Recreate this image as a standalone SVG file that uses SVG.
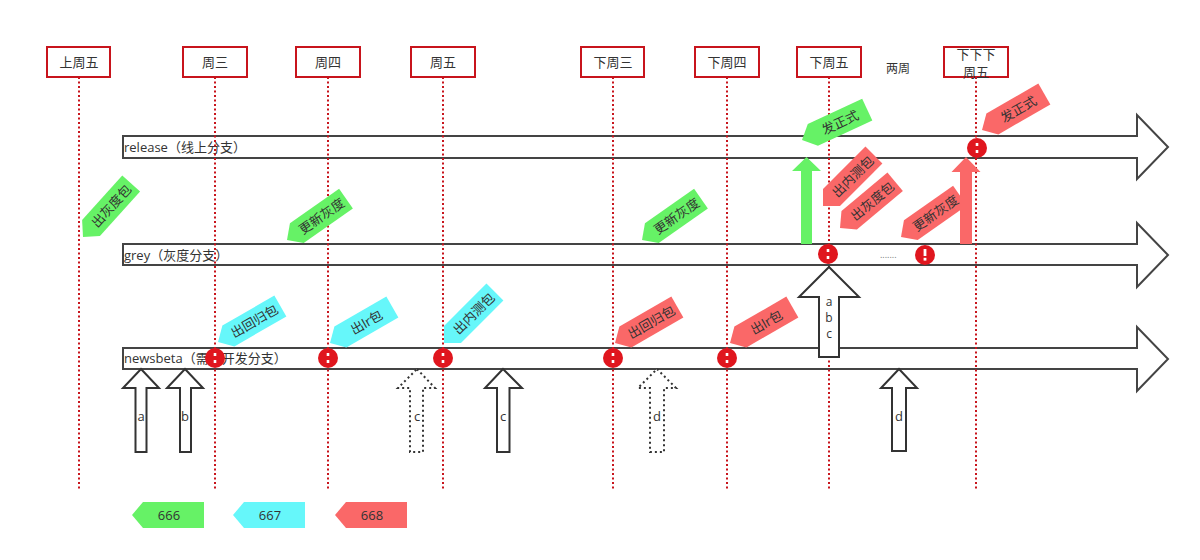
<svg xmlns="http://www.w3.org/2000/svg" xmlns:xlink="http://www.w3.org/1999/xlink" width="1200" height="560" viewBox="0 0 1200 560">
<style>
text{font-family:"Open Sans","Noto Sans CJK SC",sans-serif;fill:#333}
.lbl rect{fill:#fff;stroke:#c8141c;stroke-width:2}
.t{font-size:13px;text-anchor:middle;dominant-baseline:central}
.vl{stroke:#c8141c;stroke-width:2;stroke-dasharray:2 2.5;fill:none}
.br{fill:#fff;stroke:#444;stroke-width:2}
.bt{font-size:13px;dominant-baseline:central}
.ua{fill:#fff;stroke:#333;stroke-width:2}
.dash{stroke-dasharray:2 3}
.ut{font-size:13px;text-anchor:middle;dominant-baseline:central}
.us{font-size:12px;text-anchor:middle;dominant-baseline:central}
.g{fill:#66f266}.c{fill:#66f7fa}.r{fill:#fa6868}
.tg{font-size:13px;text-anchor:middle;dominant-baseline:central}
.lg{font-size:13px;text-anchor:middle;dominant-baseline:central}
.pt{fill:#e0161e}
.pw{fill:#fff}
</style>
<defs>
<path id="tag" d="M0,0 L12,-12 L72,-12 L72,12 L12,12 Z"/>
<path id="ltag" d="M0,0 L11,-13 L72,-13 L72,13 L11,13 Z"/>
<g id="colon"><circle class="pt" r="10"/><rect class="pw" x="-1.3" y="-5" width="2.6" height="3"/><rect class="pw" x="-1.3" y="2" width="2.6" height="3"/></g>
<g id="bang"><circle class="pt" r="10"/><rect class="pw" x="-1.4" y="-6" width="2.8" height="7"/><rect class="pw" x="-1.4" y="2.8" width="2.8" height="2.8"/></g>
</defs>

<g id="branches">
<g id="release"><path class="br" d="M123,136 L1137,136 L1137,115 L1168,147 L1137,179 L1137,158 L123,158 Z"/><text class="bt" x="124" y="147">release（线上分支）</text></g>
<g id="grey"><path class="br" d="M123,244 L1137,244 L1137,223 L1168,255 L1137,287 L1137,265 L123,265 Z"/><text class="bt" x="124" y="255">grey（灰度分支）</text></g>
<g id="newsbeta"><path class="br" d="M123,348 L1137,348 L1137,327 L1168,359 L1137,391 L1137,369 L123,369 Z"/><text class="bt" x="124" y="358">newsbeta（需求开发分支）</text></g>
</g>

<g id="timeline">
<path class="vl" d="M79,77V490 M215,77V490 M328,77V490 M443,77V490 M613,77V490 M727,77V490 M829,77V490 M976,77V490"/>
<g class="lbl" id="d-lastfri"><rect x="47" y="47" width="63" height="30"/><text class="t" x="79" y="62">上周五</text></g>
<g class="lbl" id="d-wed"><rect x="183" y="47" width="64" height="30"/><text class="t" x="215" y="62">周三</text></g>
<g class="lbl" id="d-thu"><rect x="296" y="47" width="64" height="30"/><text class="t" x="328" y="62">周四</text></g>
<g class="lbl" id="d-fri"><rect x="411" y="47" width="64" height="30"/><text class="t" x="443" y="62">周五</text></g>
<g class="lbl" id="d-nwed"><rect x="581" y="47" width="63" height="30"/><text class="t" x="613" y="62">下周三</text></g>
<g class="lbl" id="d-nthu"><rect x="695" y="47" width="64" height="30"/><text class="t" x="727" y="62">下周四</text></g>
<g class="lbl" id="d-nfri"><rect x="797" y="47" width="64" height="30"/><text class="t" x="829" y="62">下周五</text></g>
<g class="lbl" id="d-nnnfri"><rect x="944" y="47" width="64" height="30"/><text class="t" x="976" y="54">下下下</text><text class="t" x="976" y="72">周五</text></g>
<text id="twoweeks" class="t" x="898" y="68" style="font-size:12px">两周</text>
</g>

<g id="connectors">
<path id="arr-a" class="ua" d="M141,369 L159,388 L146.5,388 L146.5,452 L135.5,452 L135.5,388 L123,388 Z"/>
<text class="ut" x="141" y="416">a</text>
<path id="arr-b" class="ua" d="M185,369 L203,388 L191,388 L191,452 L180,452 L180,388 L167,388 Z"/>
<text class="ut" x="185" y="416">b</text>
<path id="arr-c1" class="ua dash" d="M417,369 L435,388 L423,388 L423,452 L410,452 L410,388 L398,388 Z"/>
<text class="ut" x="417" y="416">c</text>
<path id="arr-c2" class="ua" d="M503,369 L522,388 L509.5,388 L509.5,452 L497,452 L497,388 L485,388 Z"/>
<text class="ut" x="503" y="416">c</text>
<path id="arr-d1" class="ua dash" d="M657,369 L676,388 L664,388 L664,452 L650,452 L650,388 L638,388 Z"/>
<text class="ut" x="657" y="416">d</text>
<path id="arr-d2" class="ua" d="M899,369 L917,388 L906,388 L906,451 L892,451 L892,388 L881,388 Z"/>
<text class="ut" x="899" y="416">d</text>
<path id="arr-abc" class="ua" d="M829,267 L859,297 L839,297 L839,357 L819,357 L819,297 L799,297 Z"/>
<text class="us" x="829" y="301">a</text><text class="us" x="829" y="317">b</text><text class="us" x="829" y="333">c</text>
<path id="arr-green" class="g" d="M806.5,157 L821,171 L812,171 L812,244 L801,244 L801,171 L792,171 Z"/>
</g>

<g id="tags">
<g id="t1" transform="translate(83,237) rotate(-48)"><use xlink:href="#tag" href="#tag" class="g"/><text class="tg" x="42" y="0">出灰度包</text></g>
<g id="t2" transform="translate(287,240) rotate(-35)"><use xlink:href="#tag" href="#tag" class="g"/><text class="tg" x="42" y="0">更新灰度</text></g>
<g id="t3" transform="translate(642,240) rotate(-35)"><use xlink:href="#tag" href="#tag" class="g"/><text class="tg" x="42" y="0">更新灰度</text></g>
<g id="t4" transform="translate(802,140) rotate(-25)"><use xlink:href="#tag" href="#tag" class="g"/><text class="tg" x="42" y="0">发正式</text></g>
<g id="t6" transform="translate(840,228) rotate(-40)"><use xlink:href="#tag" href="#tag" class="r"/><text class="tg" x="42" y="0">出灰度包</text></g>
<g id="t5" transform="translate(823,206) rotate(-45)"><use xlink:href="#tag" href="#tag" class="r"/><text class="tg" x="42" y="0">出内测包</text></g>
<g id="t7" transform="translate(982,130) rotate(-30)"><use xlink:href="#tag" href="#tag" class="r"/><text class="tg" x="42" y="0">发正式</text></g>
<g id="t8" transform="translate(901,237) rotate(-35)"><use xlink:href="#tag" href="#tag" class="r"/><text class="tg" x="42" y="0">更新灰度</text></g>
<g id="t9" transform="translate(218,342) rotate(-30)"><use xlink:href="#tag" href="#tag" class="c"/><text class="tg" x="42" y="0">出回归包</text></g>
<g id="t10" transform="translate(330,343) rotate(-30)"><use xlink:href="#tag" href="#tag" class="c"/><text class="tg" x="42" y="0">出lr包</text></g>
<g id="t11" transform="translate(444,343) rotate(-45)"><use xlink:href="#tag" href="#tag" class="c"/><text class="tg" x="42" y="0">出内测包</text></g>
<g id="t12" transform="translate(615,343) rotate(-30)"><use xlink:href="#tag" href="#tag" class="r"/><text class="tg" x="42" y="0">出回归包</text></g>
<g id="t13" transform="translate(730,343) rotate(-30)"><use xlink:href="#tag" href="#tag" class="r"/><text class="tg" x="42" y="0">出lr包</text></g>
</g>

<path id="arr-red" class="r" d="M966,157 L980.5,172 L972,172 L972,244 L960,244 L960,172 L951.5,172 Z"/>

<g id="points">
<use xlink:href="#colon" href="#colon" x="215" y="358"/>
<use xlink:href="#colon" href="#colon" x="328" y="358"/>
<use xlink:href="#colon" href="#colon" x="443" y="358"/>
<use xlink:href="#colon" href="#colon" x="613" y="358"/>
<use xlink:href="#colon" href="#colon" x="727" y="358"/>
<use xlink:href="#colon" href="#colon" x="828" y="254"/>
<use xlink:href="#bang" href="#bang" x="925" y="255"/>
<use xlink:href="#colon" href="#colon" x="977" y="148"/>
<text x="880" y="258" style="font-size:9px;fill:#777">.......</text>
</g>

<g id="legend">
<g id="l666" transform="translate(132,515)"><use xlink:href="#ltag" href="#ltag" class="g"/><text class="lg" x="37" y="0">666</text></g>
<g id="l667" transform="translate(233,515)"><use xlink:href="#ltag" href="#ltag" class="c"/><text class="lg" x="37" y="0">667</text></g>
<g id="l668" transform="translate(335,515)"><use xlink:href="#ltag" href="#ltag" class="r"/><text class="lg" x="37" y="0">668</text></g>
</g>
</svg>
